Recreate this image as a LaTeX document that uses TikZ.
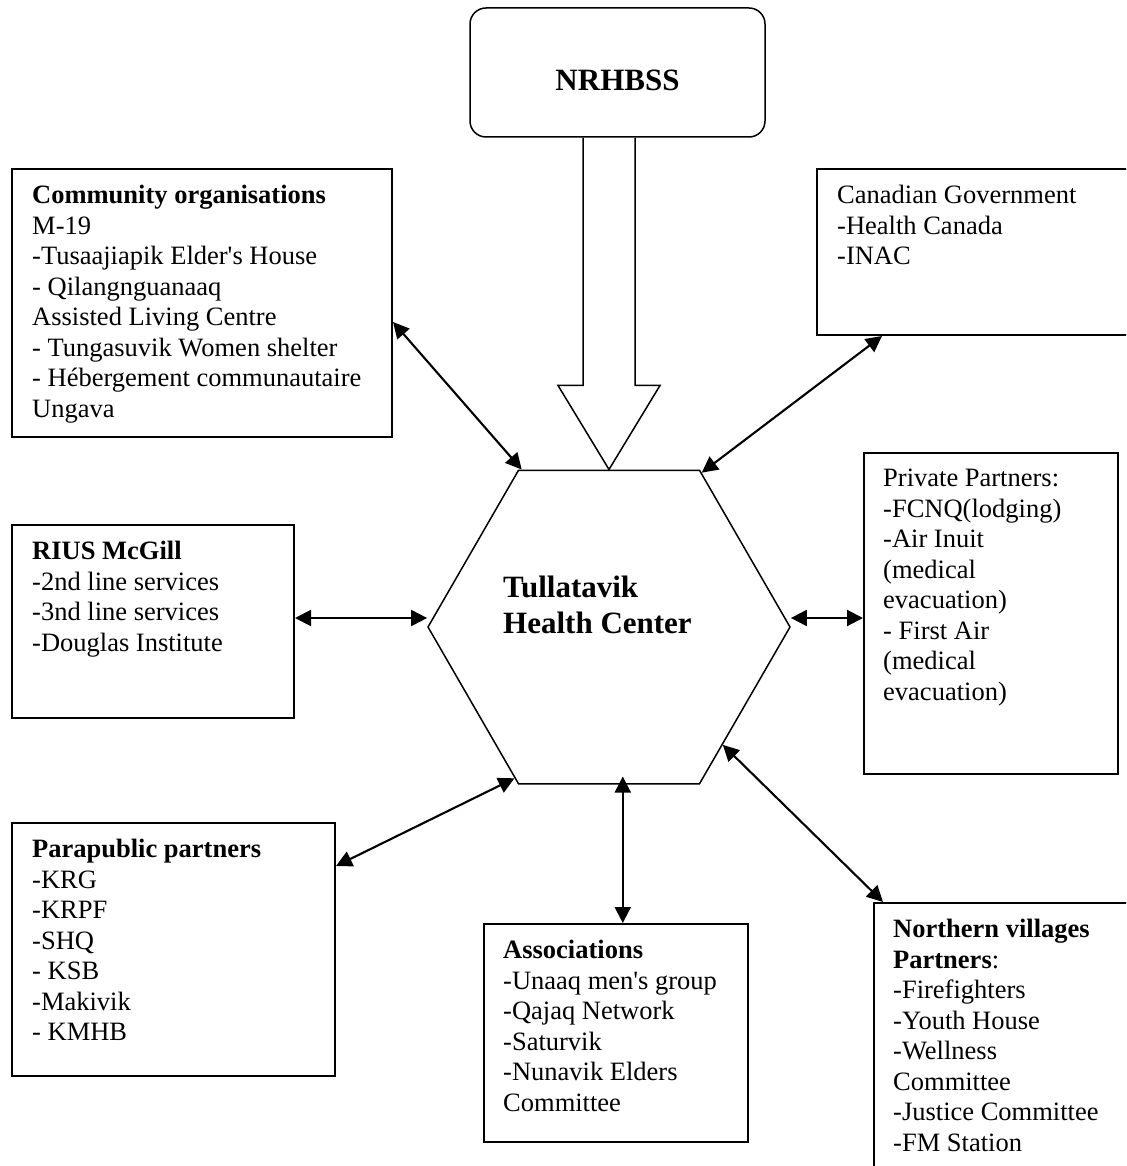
\documentclass[tikz,border=0pt]{standalone}
\usepackage{fontspec}
\setmainfont{Liberation Serif}
\usetikzlibrary{arrows.meta,shapes.geometric}

\begin{document}
\begin{tikzpicture}[x=1pt,y=1pt]
\tikzstyle{every node}+=[inner sep=0pt]
\tikzstyle{box}=[draw, line width=2pt, anchor=north west]
\tikzstyle{txt}=[anchor=north west, align=left, font=\fontsize{26.5}{30.5}\selectfont]
\tikzstyle{big}=[font=\fontsize{31}{36}\selectfont\bfseries]
\tikzstyle{link}=[line width=2.1pt, {Triangle[length=16pt,width=16pt]}-{Triangle[length=16pt,width=16pt]}]
\useasboundingbox (0,0) rectangle (1126,-1166);
\clip (0,0) rectangle (1126,-1166);
\node (nrh) [draw, big, line width=1.5pt, rounded corners=16pt, minimum width=295pt, minimum height=129pt, text height=36pt] at (617.5,-72.5) {NRHBSS};
\node (hub) [draw, line width=1.5pt, regular polygon, regular polygon sides=6, minimum size=362pt] at (609,-627) {};
\node (hubtxt) [txt, big] at (503,-576) {Tullatavik\\Health Center};
\path (hub.north) ++(-51,84) coordinate (hl) ++(25,0) coordinate (sl)
      (hub.north) ++(51,84) coordinate (hr) ++(-25,0) coordinate (sr);
\draw [line width=1.5pt] (sl |- nrh.south) -- (sl) -- (hl) -- (hub.north) -- (hr) -- (sr) -- (sr |- nrh.south);
\node (comm) [box, minimum width=380pt, minimum height=268pt] at (11,-168) {};
\node (commtxt) [txt] at ([shift={(21,-17)}]comm.north west) {\textbf{Community organisations}\\M-19\\-Tusaajiapik Elder\textquotesingle s House\\- Qilangnguanaaq\\Assisted Living Centre\\- Tungasuvik Women shelter\\- Hébergement communautaire\\Ungava};
\node (canada) [box, minimum width=330pt, minimum height=166pt] at (816,-168) {};
\node (canadatxt) [txt] at ([shift={(21,-17)}]canada.north west) {Canadian Government\\-Health Canada\\-INAC};
\node (rius) [box, minimum width=282pt, minimum height=193pt] at (11,-524) {};
\node (riustxt) [txt] at ([shift={(21,-17)}]rius.north west) {\textbf{RIUS McGill}\\-2nd line services\\-3nd line services\\-Douglas Institute};
\node (priv) [box, minimum width=254pt, minimum height=321pt] at (863,-452) {};
\node (privtxt) [txt] at ([shift={(20,-17)}]priv.north west) {Private Partners:\\-FCNQ(lodging)\\-Air Inuit\\(medical\\evacuation)\\- First Air\\(medical\\evacuation)};
\node (para) [box, minimum width=323pt, minimum height=253pt] at (11,-822) {};
\node (paratxt) [txt] at ([shift={(21,-17)}]para.north west) {\textbf{Parapublic partners}\\-KRG\\-KRPF\\-SHQ\\- KSB\\-Makivik\\- KMHB};
\node (assoc) [box, minimum width=264pt, minimum height=218pt] at (483,-923) {};
\node (assoctxt) [txt] at ([shift={(20,-17)}]assoc.north west) {\textbf{Associations}\\-Unaaq men\textquotesingle s group\\-Qajaq Network\\-Saturvik\\-Nunavik Elders\\Committee};
\node (villages) [box, minimum width=280pt, minimum height=300pt] at (873,-902) {};
\node (villagestxt) [txt] at ([shift={(20,-17)}]villages.north west) {\textbf{Northern villages}\\\textbf{Partners}:\\-Firefighters\\-Youth House\\-Wellness\\Committee\\-Justice Committee\\-FM Station};
\coordinate (hw) at ([yshift=9pt]hub.west);
\coordinate (he) at ([yshift=9pt]hub.east);
\coordinate (hs) at ([yshift=8pt]hub.275);
\draw [link] ([yshift=-19pt]comm.east) -- (hub.119);
\draw [link] ([xshift=66pt]canada.south west) -- (hub.59);
\draw [link] (rius.east |- hw) -- (hw);
\draw [link] (he) -- (he -| priv.west);
\draw [link] ([yshift=-44pt]para.north east) -- (hub.238);
\draw [link] (hs) -- (hs |- assoc.north);
\draw [link] (hub.314) -- ([xshift=10pt]villages.north west);
\end{tikzpicture}
\end{document}
